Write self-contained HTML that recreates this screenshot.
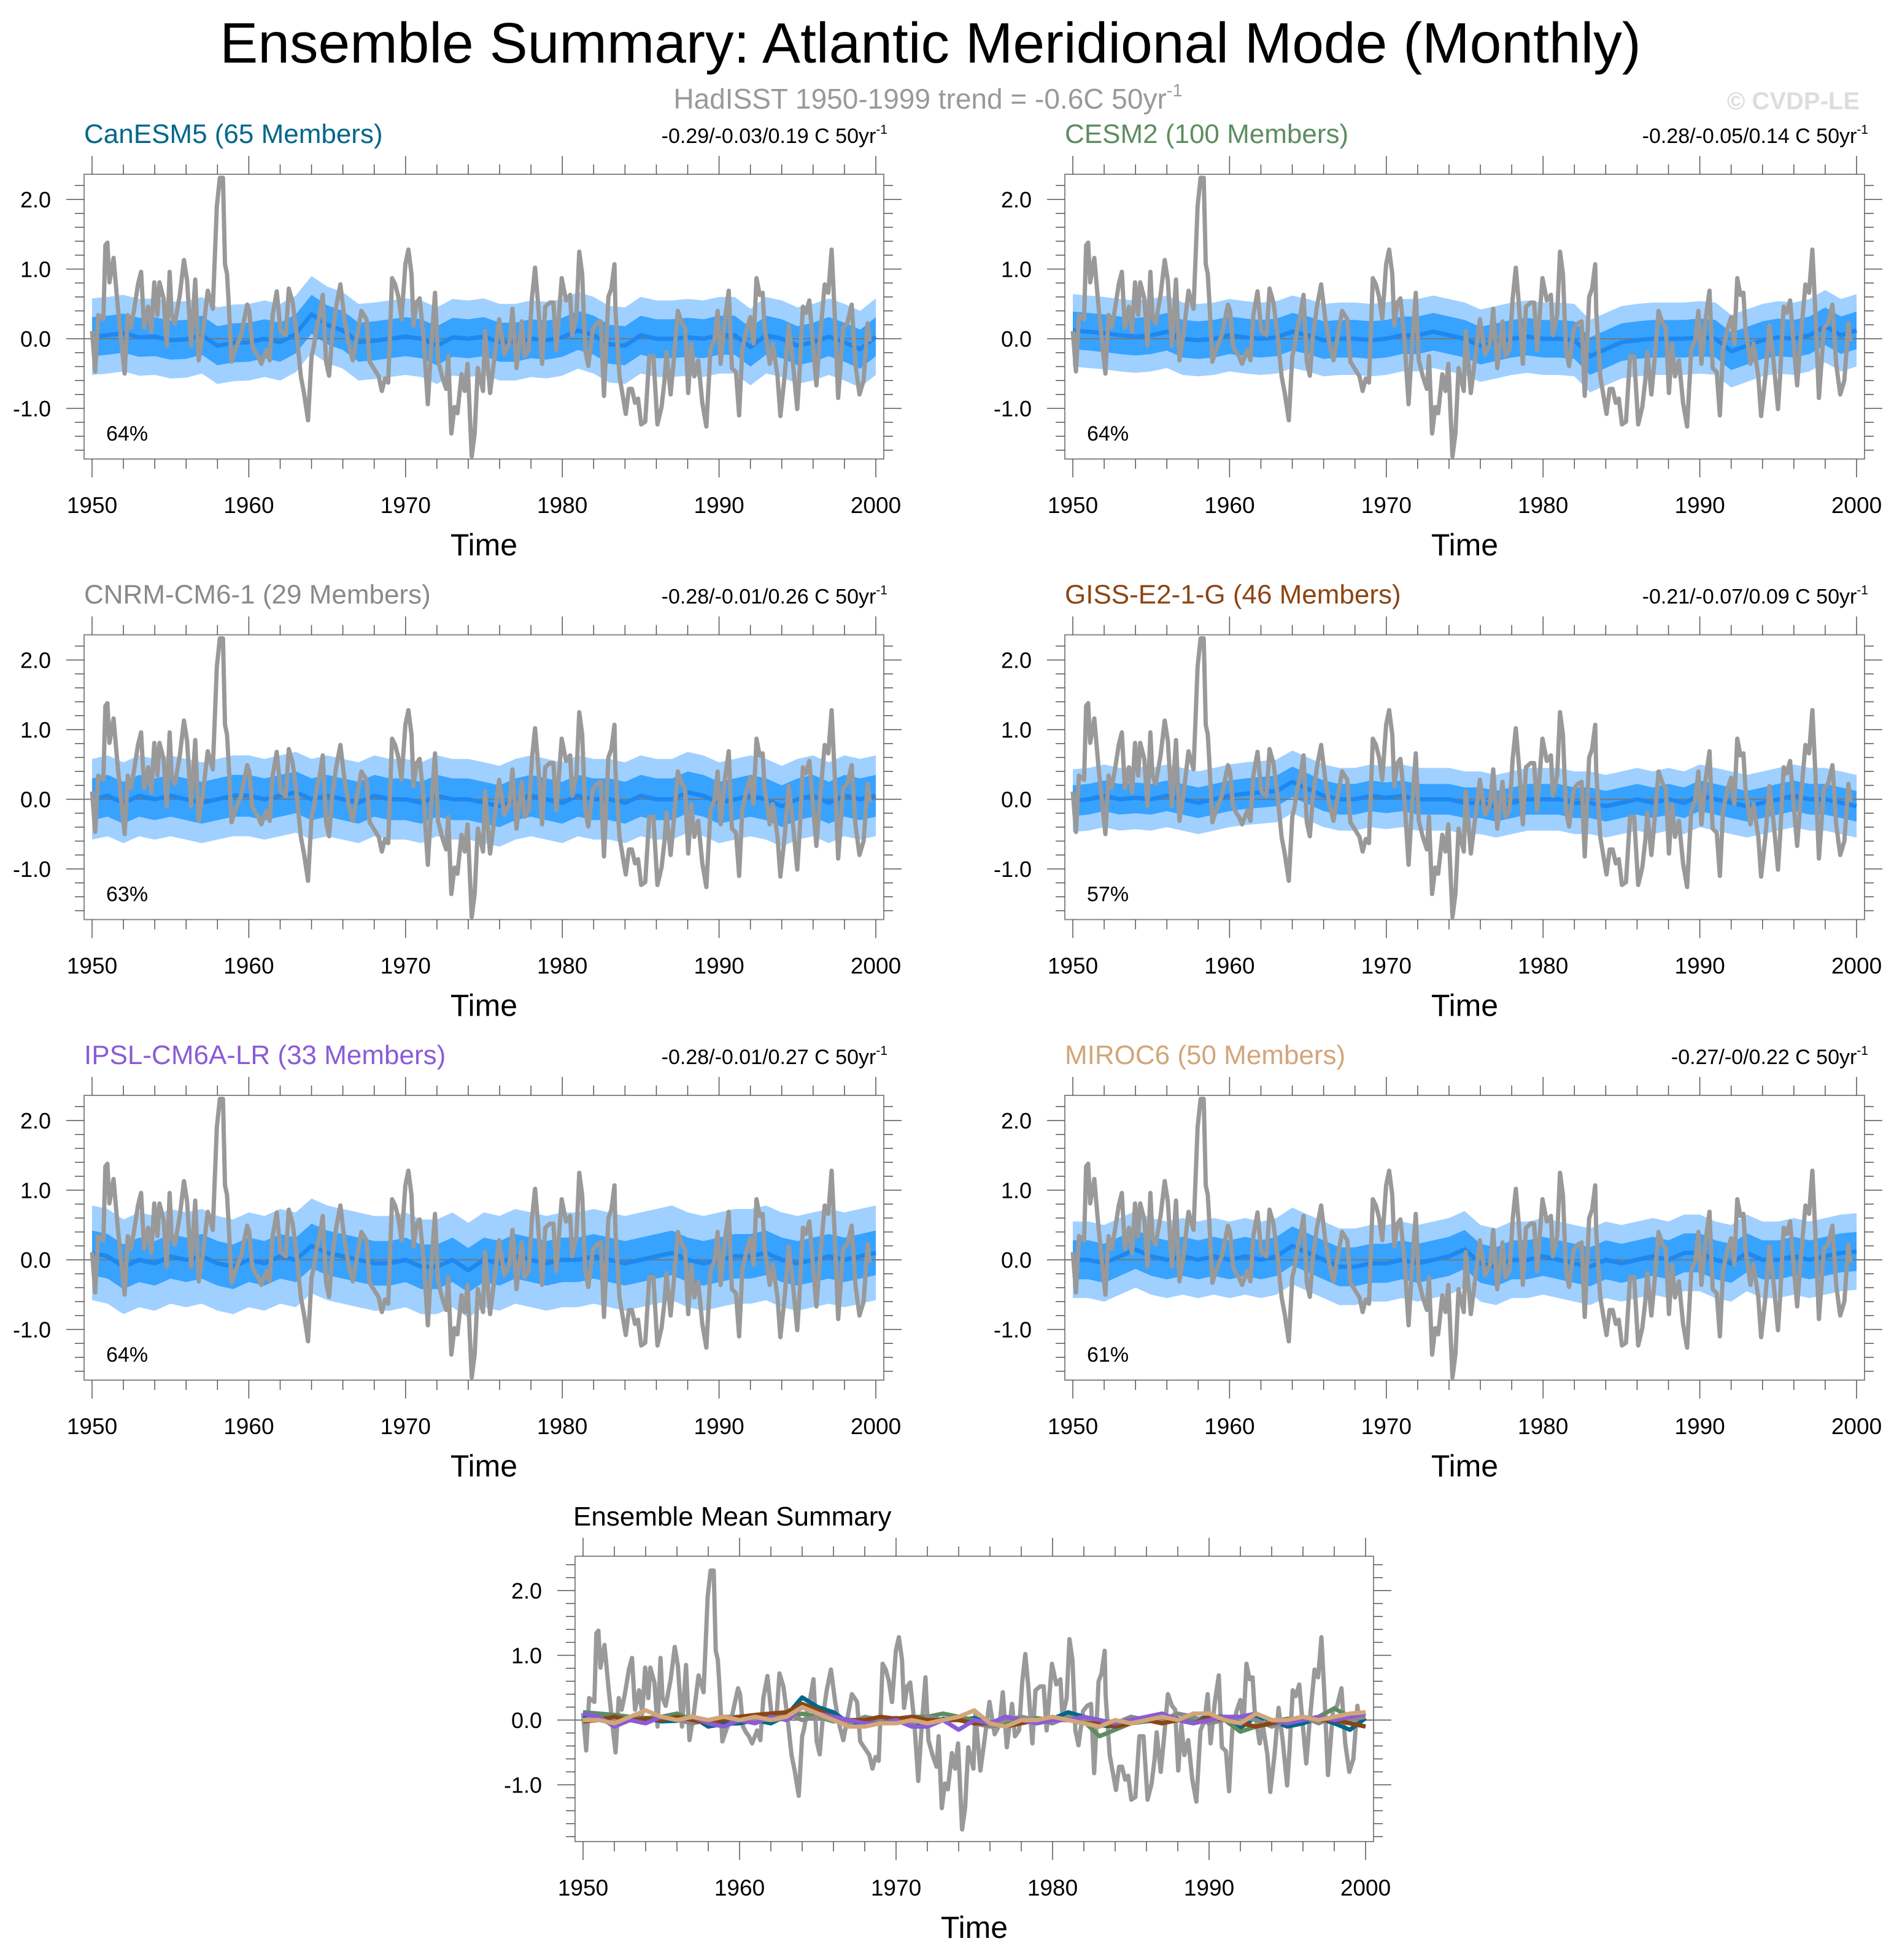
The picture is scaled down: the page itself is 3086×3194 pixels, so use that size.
<!DOCTYPE html>
<html><head><meta charset="utf-8">
<style>
html,body{margin:0;padding:0;background:#fff;}
svg{display:block;font-family:"Liberation Sans",sans-serif;}
</style></head>
<body>
<svg id="chart" xmlns="http://www.w3.org/2000/svg" width="3086" height="3194" viewBox="0 0 3086 3194">
<rect width="3086" height="3194" fill="#fff"/>
<text x="1516" y="102" font-size="93" text-anchor="middle" fill="#000">Ensemble Summary: Atlantic Meridional Mode (Monthly)</text>
<text x="1512" y="177" font-size="46" text-anchor="middle" fill="#999">HadISST 1950-1999 trend = -0.6C 50yr<tspan dy="-20" font-size="29">-1</tspan></text>
<text x="3030" y="178" font-size="40" font-weight="bold" text-anchor="end" fill="#ddd">© CVDP-LE</text>
<g id="panels"></g>
</svg>
<script>
const obsYears = [1950,1950.2,1950.39,1950.72,1950.85,1950.98,1951.11,1951.37,1951.63,1951.89,1952.08,1952.28,1952.47,1952.67,1952.93,1953.13,1953.32,1953.58,1953.78,1953.97,1954.17,1954.3,1954.56,1954.76,1954.95,1955.08,1955.28,1955.6,1955.86,1956.06,1956.32,1956.58,1956.8,1957.05,1957.38,1957.7,1957.96,1958.15,1958.35,1958.48,1958.61,1958.7,1958.9,1959.18,1959.5,1959.9,1960.03,1960.22,1960.41,1960.6,1960.8,1961.13,1961.33,1961.52,1961.78,1962.03,1962.36,1962.55,1962.8,1963.06,1963.32,1963.52,1963.78,1964.0,1964.13,1964.33,1964.52,1964.72,1964.93,1965.12,1965.31,1965.57,1965.84,1966.11,1966.37,1966.63,1967.18,1967.51,1967.71,1968.29,1968.49,1968.69,1968.89,1969.14,1969.34,1969.54,1969.74,1969.99,1970.18,1970.38,1970.51,1970.71,1970.9,1971.16,1971.42,1971.62,1971.88,1972.07,1972.33,1972.59,1972.72,1972.92,1973.12,1973.31,1973.57,1973.77,1973.96,1974.22,1974.41,1974.61,1974.94,1975.07,1975.39,1975.65,1975.97,1976.3,1976.62,1976.82,1977.08,1977.41,1977.6,1977.86,1978.06,1978.26,1978.45,1978.71,1978.91,1979.21,1979.43,1979.62,1979.96,1980.24,1980.5,1980.63,1980.9,1981.08,1981.27,1981.46,1981.66,1981.95,1982.21,1982.46,1982.66,1982.94,1983.13,1983.33,1983.39,1983.65,1984.05,1984.25,1984.44,1984.64,1984.83,1985.03,1985.29,1985.55,1985.81,1986.07,1986.33,1986.52,1986.65,1986.91,1987.11,1987.37,1987.63,1987.83,1988.03,1988.23,1988.42,1988.67,1988.93,1989.19,1989.45,1989.71,1989.91,1990.1,1990.37,1990.62,1990.82,1991.08,1991.28,1991.48,1991.76,1992.0,1992.2,1992.39,1992.59,1992.78,1992.91,1993.23,1993.43,1993.73,1993.91,1994.18,1994.44,1994.7,1994.99,1995.12,1995.35,1995.54,1995.76,1996.03,1996.21,1996.42,1996.74,1996.97,1997.18,1997.38,1997.6,1997.92,1998.18,1998.46,1998.7,1998.96,1999.22,1999.48,1999.61,1999.93];
const obsValues = [0.11,-0.47,0.34,0.28,1.34,1.38,0.81,1.16,0.49,-0.1,-0.5,0.34,0.16,0.4,0.78,0.96,0.16,0.46,0.1,0.81,0.34,0.81,0.58,-0.1,0.96,0.34,0.22,0.63,1.13,0.84,-0.1,0.85,-0.31,0.05,0.69,0.43,1.9,2.31,2.31,1.07,0.93,0.58,-0.33,-0.13,0.05,0.49,0.4,-0.1,-0.19,-0.25,-0.36,-0.16,-0.31,0.34,0.68,0.11,0.05,0.72,0.52,0.05,-0.54,-0.78,-1.17,-0.25,-0.13,0.16,0.34,0.63,-0.33,-0.53,0.02,0.46,0.78,0.28,-0.07,-0.31,0.4,0.28,-0.33,-0.54,-0.75,-0.57,-0.63,0.87,0.78,0.6,0.28,1.07,1.28,0.93,0.19,0.52,0.58,-0.01,-0.94,-0.16,0.66,-0.31,-0.54,-0.72,-0.25,-1.36,-0.98,-1.07,-0.51,-0.75,-0.36,-1.69,-1.36,-0.42,-0.75,0.11,-0.78,-0.31,0.28,-0.22,-0.07,0.43,-0.42,0.25,-0.25,-0.16,0.58,1.02,0.52,-0.36,0.46,0.52,0.52,-0.16,0.87,0.55,0.63,0.05,0.34,1.25,0.93,-0.16,-0.39,0.14,0.22,0.25,-0.82,0.6,0.72,1.07,0.4,-0.54,-1.08,-0.72,-0.72,-0.92,-0.86,-1.23,-1.19,-0.25,-0.25,-1.23,-0.98,-0.6,-0.19,-0.8,-0.31,0.4,0.22,0.16,-0.78,-0.07,-0.54,-0.31,-0.92,-1.26,-0.16,-0.01,0.4,-0.36,0.28,0.69,-0.42,-0.48,-1.1,-0.16,0.14,0.31,-0.07,0.87,0.63,0.66,0.16,-0.36,-0.07,-0.54,-1.11,-0.54,0.19,-0.31,-1.01,-0.54,0.46,0.37,0.55,-0.19,-0.67,-0.04,0.78,0.66,1.28,0.34,-0.85,0.16,0.22,0.49,-0.36,-0.8,-0.6,0.22,-0.04];

// Ensemble means, one value per year 1950..2000
const meanYears = Array.from({length:51},(_, i)=>1950+i);
const canesm5Mean = [0.03,0.05,0.08,0.02,0.03,-0.02,-0.01,0.05,-0.1,-0.06,-0.05,0,-0.05,0.07,0.35,0.2,0.12,-0.05,-0.03,0,0.03,0,-0.1,0.02,0,0.03,-0.05,-0.05,0,-0.02,0.02,0.12,0.05,-0.08,-0.1,0.05,0,0,0.02,0,0.05,0.05,-0.12,0.05,0,-0.1,-0.05,0.03,-0.05,-0.15,0.03];
const cesm2Mean = [0.12,0.1,0.08,0.05,0.03,0.05,0.1,0,-0.02,0,0.05,0.02,0,0.02,0.1,0.05,-0.02,0,0,-0.02,0,0.05,0.05,0.1,0.05,0,-0.1,-0.05,0,0.03,0,0,-0.02,-0.25,-0.15,-0.05,-0.02,0,0,0,0.02,0,-0.18,-0.1,-0.02,0.02,0,0.05,0.18,0.05,0.12];
const cnrmMean = [0,0.05,-0.05,0.05,0,0.05,0,-0.05,0,0.05,0.05,0,0.05,0.1,0,0.05,0,-0.05,0.05,0,0,-0.05,0.05,0,0,-0.05,-0.1,0,0.05,0,-0.05,0.05,0,0,-0.05,0.05,0,0,0.1,0.05,-0.05,0,0.05,0,-0.1,0,0.05,-0.05,0.05,0,0.05];
const gissMean = [-0.02,0,0.05,0,0.02,0,0.05,0,-0.05,0,0.05,0.08,0.1,0.12,0.25,0.15,0.05,0,0,0.05,0.02,0.05,0,0,0,-0.05,-0.05,-0.1,-0.05,0,0,0,-0.05,-0.05,-0.1,-0.05,0,-0.05,0,-0.05,0.05,0,-0.05,-0.1,-0.05,0,0.05,0,0,-0.05,-0.1];
const ipslMean = [0.1,0.05,-0.1,0,-0.05,0.05,0,0.05,-0.05,-0.1,0,-0.05,0.05,0,0.2,0.1,0.05,0,-0.05,-0.05,0,-0.1,-0.1,0,-0.15,0,-0.05,0.05,0,-0.05,0,0,0.05,0,-0.05,0,0.05,0.1,0,-0.05,0,0.05,0.05,0.1,0,-0.05,0,0.05,0,0.05,0.1];
const mirocMean = [0,0,-0.05,0.05,0.15,0.05,0,0.05,0,0.05,0,0.05,0,0.05,0.2,0.1,0,-0.1,-0.1,-0.05,-0.05,0,-0.05,0,0.05,0.15,-0.05,-0.1,0,0,0.05,0,-0.05,-0.1,0,-0.05,0,0.05,0,0.1,0.1,0,-0.05,0.1,0,0,0.05,0,0.05,0.1,0.12];
// band half-widths (inner / outer spread), per model
const innerSpread = [0.28,0.27,0.3,0.22,0.32,0.28];
const outerSpread = [0.55,0.52,0.58,0.45,0.68,0.55];
const modelNames = ["CanESM5 (65 Members)","CESM2 (100 Members)","CNRM-CM6-1 (29 Members)","GISS-E2-1-G (46 Members)","IPSL-CM6A-LR (33 Members)","MIROC6 (50 Members)"];
const trendLabels = ["-0.29/-0.03/0.19 C 50yr","-0.28/-0.05/0.14 C 50yr","-0.28/-0.01/0.26 C 50yr","-0.21/-0.07/0.09 C 50yr","-0.28/-0.01/0.27 C 50yr","-0.27/-0/0.22 C 50yr"];
const pctLabels = ["64%","64%","63%","57%","64%","61%"];
const xTickLabels = [1950,1960,1970,1980,1990,2000];
const yTickLabels = [-1,0,1,2];

const modelColors = ["#00678a","#5e8c61","#8a8a8a","#8b4513","#8a5cd6","#d2a679"];
const allMeans = [canesm5Mean,cesm2Mean,cnrmMean,gissMean,ipslMean,mirocMean];
const slugs = ["canesm5","cesm2","cnrm-cm6-1","giss-e2-1-g","ipsl-cm6a-lr","miroc6"];

const NS="http://www.w3.org/2000/svg";
const root=document.getElementById('panels');
function mk(tag,attrs,parent){const e=document.createElementNS(NS,tag);for(const k in attrs)e.setAttribute(k,attrs[k]);(parent||root).appendChild(e);return e;}

function drawPanel(x0,y0,w,h,zeroOff,unit,idx,summary){
  const g=mk('g',{});
  
  
  const xs=yr=>x0+13+(yr-1950)*(w-26)/50;
  const ys=v=>y0+zeroOff-v*unit;
  const clipId='clip'+(summary?'s':idx);
  const cp=mk('clipPath',{id:clipId},g);mk('rect',{x:x0,y:y0,width:w,height:h},cp);
  const plot=mk('g',{'clip-path':'url(#'+clipId+')'},g);
  if(!summary){
    const m=allMeans[idx];
    [[outerSpread[idx],'#a0d0ff','outer'],[innerSpread[idx],'#38a2ff','inner']].forEach(([s,c,nm])=>{
      let d='';
      meanYears.forEach((yr,i)=>{d+=(i?'L':'M')+xs(yr).toFixed(1)+','+ys(m[i]+s).toFixed(1);});
      for(let i=meanYears.length-1;i>=0;i--)d+='L'+xs(meanYears[i]).toFixed(1)+','+ys(m[i]-s).toFixed(1);
      const p=mk('path',{d:d+'Z',fill:c},plot);
      
      
    });
  }
  const zl=mk('line',{x1:x0,x2:x0+w,y1:ys(0),y2:ys(0),stroke:'#777','stroke-width':2},plot);
  
  
  const line=(yrs,vals,col,wd,name)=>{
    const d=yrs.map((yr,i)=>(i?'L':'M')+xs(yr).toFixed(1)+','+ys(vals[i]).toFixed(1)).join('');
    const p=mk('path',{d:d,fill:'none',stroke:col,'stroke-width':wd,'stroke-linejoin':'round'},plot);
    
    
  };
  if(!summary){
    line(meanYears,allMeans[idx],'#1e88f0',7,'ensemble-mean-line');
    line(obsYears,obsValues,'#999',7,'hadisst-obs-line');
  } else {
    line(obsYears,obsValues,'#999',7,'hadisst-obs-line');
    allMeans.forEach((m,i)=>line(meanYears,m,modelColors[i],7,'mean-line-'+slugs[i]));
  }
  const fr=mk('rect',{x:x0,y:y0,width:w,height:h,fill:'none',stroke:'#888','stroke-width':2},g);
  
  
  for(let yr=1950;yr<=2000;yr+=2){
    const maj=(yr%10===0), L=maj?30:16, x=xs(yr);
    mk('line',{x1:x,x2:x,y1:y0,y2:y0-L,stroke:'#555','stroke-width':1.5},g);
    mk('line',{x1:x,x2:x,y1:y0+h,y2:y0+h+L,stroke:'#555','stroke-width':1.5},g);
  }
  xTickLabels.forEach(yr=>{
    const t=mk('text',{x:xs(yr),y:y0+h+88,'font-size':37,'text-anchor':'middle',fill:'#000'},g);
    
    
    t.textContent=yr;
  });
  for(let k=-30;k<=30;k++){
    const v=k/10; if(k%2!==0) continue;
    const y=ys(v); if(y<y0+2||y>y0+h-2) continue;
    const maj=(k%10===0), L=maj?29:15;
    mk('line',{x1:x0,x2:x0-L,y1:y,y2:y,stroke:'#555','stroke-width':1.5},g);
    mk('line',{x1:x0+w,x2:x0+w+L,y1:y,y2:y,stroke:'#555','stroke-width':1.5},g);
  }
  yTickLabels.forEach(v=>{
    const t=mk('text',{x:x0-54,y:ys(v)+13,'font-size':36,'text-anchor':'end',fill:'#000'},g);
    
    
    t.textContent=v.toFixed(1);
  });
  const xt=mk('text',{x:x0+w/2,y:y0+h+157,'font-size':50,'text-anchor':'middle',fill:'#000'},g);
  
  
  xt.textContent='Time';
  if(!summary){
    const tt=mk('text',{x:x0,y:y0-51,'font-size':44,fill:modelColors[idx]},g);
    
    
    tt.textContent=modelNames[idx];
    const tr=mk('text',{x:x0+w+6,y:y0-51,'font-size':34,'text-anchor':'end',fill:'#000'},g);
    
    
    tr.textContent=trendLabels[idx];
    const sup=mk('tspan',{dy:-15,'font-size':21},tr);sup.textContent='-1';
    const pc=mk('text',{x:x0+36,y:y0+434,'font-size':34,fill:'#000'},g);
    
    
    pc.textContent=pctLabels[idx];
  } else {
    const tt=mk('text',{x:x0-3,y:y0-50,'font-size':44,fill:'#000'},g);
    
    
    tt.textContent='Ensemble Mean Summary';
  }
}
const colX=[137,1735], rowY=[284,1034.5,1785];
for(let i=0;i<6;i++) drawPanel(colX[i%2],rowY[Math.floor(i/2)],1303,464,268,113.5,i,false);
drawPanel(937,2536,1301,465,267,105.5,6,true);
</script>
</body></html>
